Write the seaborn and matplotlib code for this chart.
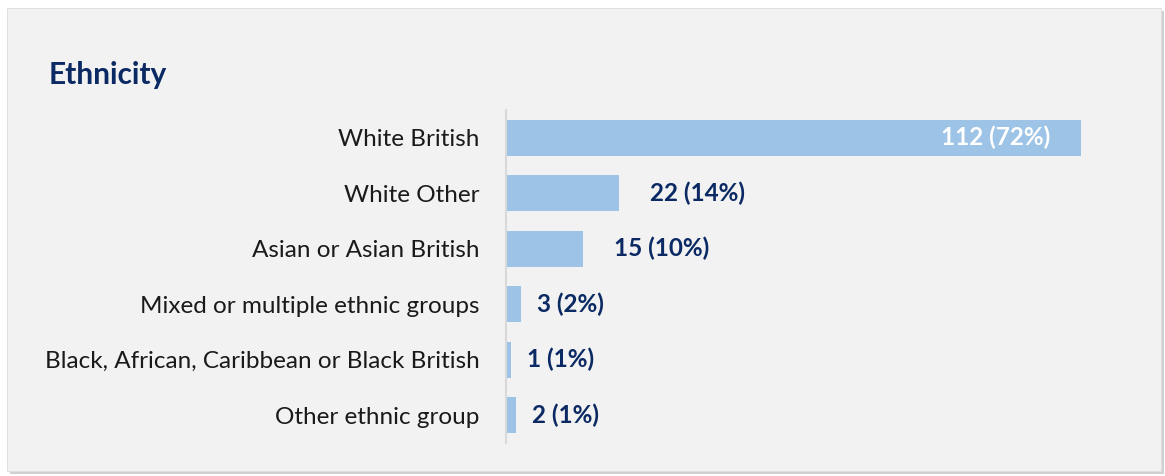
import matplotlib
matplotlib.use("Agg")
import matplotlib.pyplot as plt
import seaborn as sns
import pandas as pd
from matplotlib.patches import Rectangle

categories = ["White British", "White Other", "Asian or Asian British",
              "Mixed or multiple ethnic groups",
              "Black, African, Caribbean or Black British", "Other ethnic group"]
counts = [112, 22, 15, 3, 1, 2]
percents = [72, 14, 10, 2, 1, 1]
title = "Ethnicity"

sns.set_theme(style="white")
plt.rcParams['font.family'] = ['Lato', 'DejaVu Sans']

W, H = 1165, 476
fig = plt.figure(figsize=(W / 100, H / 100), dpi=100, facecolor="white")

def fx(px): return px / W
def fy(py): return 1 - py / H
shadow = Rectangle((fx(10), fy(474)), fx(1164) - fx(10), fy(11) - fy(474),
                   transform=fig.transFigure, facecolor="#D0D0D0", edgecolor="none", zorder=-2)
panel = Rectangle((fx(7), fy(471)), fx(1161) - fx(7), fy(8) - fy(471),
                  transform=fig.transFigure, facecolor="#F2F2F2", edgecolor="#E0E0E0",
                  linewidth=0.8, zorder=-1)
fig.patches.extend([shadow, panel])

ax = fig.add_axes([fx(506), fy(443), fx(1110) - fx(506), fy(110) - fy(443)])
ax.set_facecolor("none")
ax.set_zorder(2)

df = pd.DataFrame({"cat": categories, "n": counts})
sns.barplot(data=df, y="cat", x="n", orient="h", color="#9DC3E6", width=0.65,
            saturation=1, linewidth=0, ax=ax)

ax.set_xlim(0, (1110 - 506) / (575 / 112))
ax.set_ylim(len(categories) - 0.5, -0.5)
ax.set_xlabel("")
ax.set_ylabel("")
ax.set_xticks([])
for s in ["top", "right", "bottom"]:
    ax.spines[s].set_visible(False)
ax.spines["left"].set_color("#D9D9D9")
ax.spines["left"].set_linewidth(1.5)
ax.tick_params(axis="y", length=0, pad=19, labelsize=17.5, labelcolor="#1A1A1A")

navy = "#0B2A63"
for i, (n, p) in enumerate(zip(counts, percents)):
    label = f"{n} ({p}%)"
    if i == 0:
        ax.annotate(label, (n, i), xytext=(-22, 0), textcoords="offset points",
                    ha="right", va="center", color="white", fontsize=17.5, fontweight="bold")
    else:
        off = 22 if n >= 10 else 11.5
        ax.annotate(label, (n, i), xytext=(off, 0), textcoords="offset points",
                    ha="left", va="center", color=navy, fontsize=17.5, fontweight="bold")

fig.text(fx(49), fy(75), title, ha="left", va="center", fontsize=21.5,
         fontweight="bold", color=navy)

fig.savefig("out.png", dpi=100, facecolor="white")
